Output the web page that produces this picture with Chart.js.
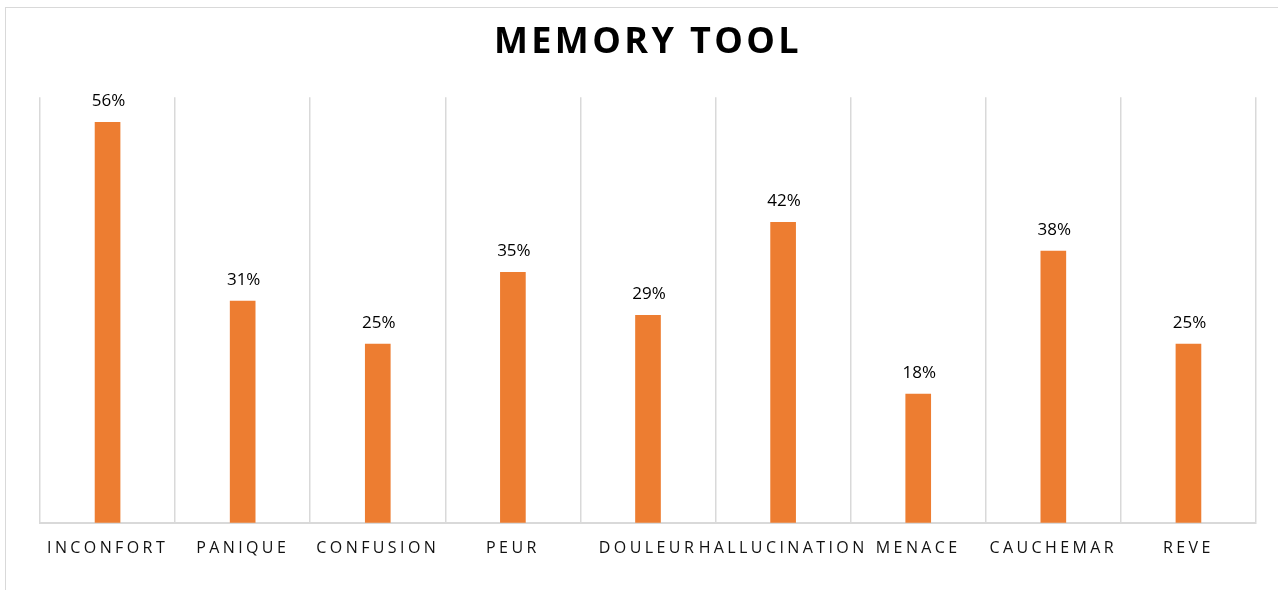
<!DOCTYPE html>
<html lang="fr">
<head>
<meta charset="UTF-8">
<title>Memory Tool</title>
<script src="https://cdn.jsdelivr.net/npm/chart.js"></script>
<style>
    html, body { margin: 0; padding: 0; background: #fff; overflow: hidden; }
    .cadre {
        position: absolute; left: 5px; top: 7px; width: 1400px; height: 700px;
        border: 1px solid #d9d9d9;
    }
    .zone { position: absolute; left: 0; top: 0; width: 1278px; height: 590px; }
</style>
</head>
<body>
<div class="cadre"></div>
<div class="zone"><canvas id="graphique"></canvas></div>

<script>
    // données
    const categories = ['INCONFORT', 'PANIQUE', 'CONFUSION', 'PEUR', 'DOULEUR', 'HALLUCINATION', 'MENACE', 'CAUCHEMAR', 'REVE'];
    const pourcentages = [56, 31, 25, 35, 29, 42, 18, 38, 25];

    const orange = '#ED7D31';
    const gris = '#d9d9d9';

    // espacement des lettres : titre, valeurs, étiquettes
    const espacement = {
        id: 'espacement',
        beforeDraw(chart) {
            chart.ctx.letterSpacing = '3.4px';
        },
        beforeDatasetsDraw(chart) {
            chart.ctx.letterSpacing = '0px';
        },
        afterDatasetsDraw(chart) {
            const ctx = chart.ctx;
            const meta = chart.getDatasetMeta(0);
            ctx.save();
            ctx.font = '17px "Open Sans"';
            ctx.fillStyle = '#000';
            ctx.textAlign = 'center';
            ctx.textBaseline = 'alphabetic';
            meta.data.forEach((barre, i) => {
                ctx.fillText(pourcentages[i] + '%', barre.x + 1, barre.y - 16);
            });
            ctx.restore();
            ctx.letterSpacing = '3px';
        }
    };

    new Chart(document.getElementById('graphique'), {
        type: 'bar',
        data: {
            labels: categories,
            datasets: [{
                data: pourcentages,
                backgroundColor: orange,
                borderWidth: 0,
                barThickness: 25
            }]
        },
        options: {
            responsive: true,
            maintainAspectRatio: false,
            animation: false,
            layout: { padding: { left: 40, right: 22, top: 0, bottom: 16 } },
            plugins: {
                legend: { display: false },
                tooltip: { enabled: false },
                title: {
                    display: true,
                    text: 'MEMORY TOOL',
                    color: '#000',
                    font: { family: 'Open Sans', size: 36, weight: 'bold' },
                    padding: { top: 21, bottom: 33 }
                }
            },
            scales: {
                x: {
                    z: 1,
                    grid: { offset: true, color: gris, lineWidth: 1.5, drawTicks: false },
                    border: { display: true, color: gris, width: 2 },
                    ticks: {
                        color: '#111',
                        font: { family: 'Open Sans', size: 16 },
                        padding: 16,
                        autoSkip: false,
                        maxRotation: 0
                    }
                },
                y: {
                    display: false,
                    min: 0,
                    max: 59.5
                }
            }
        },
        plugins: [espacement]
    });
</script>
</body>
</html>
